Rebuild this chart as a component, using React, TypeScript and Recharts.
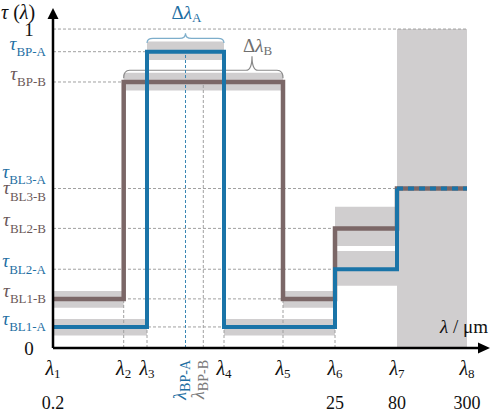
import React from 'react';
import { ComposedChart, Line, XAxis, YAxis, ReferenceArea, ReferenceLine, ReferenceDot } from 'recharts';

const FONT = "'Liberation Serif', 'DejaVu Serif', 'Times New Roman', serif";
const TXT = { fontFamily: FONT };
const BLUE = '#1a74a8';
const BROWN = '#7b6767';
const BAND = '#d0cecf';
const GUIDE = '#a0a0a0';
const BLUE_TEXT = '#1f6fa3';
const BROWN_TEXT = '#6b5858';
const BRACE_A = '#7eaecb';
const BRACE_B = '#8a8a8a';

// wavelength marks (symbolic positions along the λ axis)
const lambdaNames = ['1', '2', '3', 'BP-A', 'BP-B', '4', '5', '6', '7', '8'];
const lambdaPos = [0, 70.7, 94, 132.5, 150.3, 171, 230, 282, 344, 414];
const lambdaUm = ['0.2', '', '', '', '', '', '', '25', '80', '300'];
const X_MAX = 437;
const [L1, L2, L3, LBPA, LBPB, L4, L5, L6, L7, L8] = lambdaPos;

// transmittance levels
const tauNames = ['BP-A', 'BP-B', 'BL3-A', 'BL3-B', 'BL2-B', 'BL2-A', 'BL1-B', 'BL1-A'];
const tauVals = [0.929, 0.834, 0.5, 0.5, 0.375, 0.247, 0.154, 0.066];
const tauFilter = ['A', 'B', 'A', 'B', 'B', 'A', 'B', 'A'];
const [T_BPA, T_BPB, T_BL3A, T_BL3B, T_BL2B, T_BL2A, T_BL1B, T_BL1A] = tauVals;
const Y_MAX = 1.066;

// step curves of filter A and filter B
const filterAx = [L1, L3, L4, L6, L7];
const filterAy = [T_BL1A, T_BPA, T_BL1A, T_BL2A, T_BL3A];
const filterBx = [L1, L2, L5, L6, L7, L8];
const filterBy = [T_BL1B, T_BPB, T_BL1B, T_BL2B, T_BL3B, T_BL3B];
const sharedTailX = [L7, L8];
const sharedTailY = [T_BL3A, T_BL3A];

// tolerance bands
const bandX1 = [L1, L3, L4, L6, L1, L2, L5, L6, L7];
const bandX2 = [L3, L4, L6, L7, L2, L5, L6, L7, L8];
const bandLo = [0.039, 0.903, 0.039, 0.195, 0.126, 0.807, 0.126, 0.32, 0];
const bandHi = [0.091, 0.961, 0.091, 0.304, 0.179, 0.863, 0.179, 0.443, 1];

// dashed guide lines
const hGuideY = [1, T_BPA, T_BPB, T_BL3A, T_BL2B, T_BL2A, T_BL1B, T_BL1A];
const hGuideEnd = [L8, L3, L2, L7, L6, L6, L5, L6];
const vGuideX = [L2, L3, LBPA, LBPB, L4, L5, L6];
const vGuideTop = [T_BL1B, T_BL1A, T_BPA, T_BPB, T_BL1A, T_BL1B, T_BL1A];

// bandwidth braces
const braceX1 = [L3, L2];
const braceX2 = [L4, L5];
const braceTip = [LBPA, 199];
const braceLo = [0.956, 0.846];
const braceHi = [0.987, 0.915];
const braceNames = ['A', 'B'];

const toPts = (xs: number[], ys: number[]) => xs.map((x, i) => ({ x, y: ys[i] }));
const dataA = toPts(filterAx, filterAy);
const dataB = toPts(filterBx, filterBy);
const dataTail = toPts(sharedTailX, sharedTailY);

const XTick = (props: any) => {
  const { x, payload } = props;
  const i = lambdaPos.indexOf(payload.value);
  if (i < 0) return null;
  const name = lambdaNames[i];
  if (name.startsWith('BP')) {
    const color = name === 'BP-A' ? BLUE_TEXT : '#7a7a7a';
    return (
      <g transform={`translate(${x + 0.5},${360}) rotate(-90)`}>
        <text x={0} y={0} textAnchor="end" fill={color} style={TXT}>
          <tspan fontStyle="italic" fontSize={18}>λ</tspan>
          <tspan fontSize={14} dy={4}>{name}</tspan>
        </text>
      </g>
    );
  }
  return (
    <g>
      <text x={x} y={375} textAnchor="middle" fill="#111" style={TXT}>
        <tspan fontStyle="italic" fontSize={20}>λ</tspan>
        <tspan fontSize={13} dy={3}>{name}</tspan>
      </text>
      {lambdaUm[i] ? (
        <text x={x} y={409} textAnchor="middle" fill="#111" style={TXT} fontSize={18}>
          {lambdaUm[i]}
        </text>
      ) : null}
    </g>
  );
};

const YTick = (props: any) => {
  const { y, payload } = props;
  const v = payload.value;
  if (v === 0 || v === 1) {
    return (
      <text x={29} y={y + 7} textAnchor="middle" fill="#111" style={TXT} fontSize={19}>
        {v}
      </text>
    );
  }
  const idx = tauVals.map((t, i) => (t === v ? i : -1)).filter((i) => i >= 0);
  return (
    <g>
      {idx.map((i) => {
        const shared = idx.length > 1;
        const isA = tauFilter[i] === 'A';
        const base = shared ? (isA ? y - 11 : y + 5.5) : y - 2;
        return (
          <text key={i} x={46} y={base} textAnchor="end" fill={isA ? BLUE_TEXT : BROWN_TEXT} style={TXT}>
            <tspan fontStyle="italic" fontSize={19}>τ</tspan>
            <tspan fontSize={13} dy={6.5}>{tauNames[i]}</tspan>
          </text>
        );
      })}
    </g>
  );
};

const makeBrace = (k: number) => (props: any) => {
  const { x, y, width, height } = props;
  const color = k === 0 ? BRACE_A : BRACE_B;
  const textColor = k === 0 ? BLUE_TEXT : '#6f6f6f';
  const barFrac = k === 0 ? 0.53 : 0.64;
  const xb = x;
  const xe = x + width;
  const yb = y + height;
  const yt = y;
  const ym = y + height * barFrac;
  const t = x + (width * (braceTip[k] - braceX1[k])) / (braceX2[k] - braceX1[k]);
  const r = 6;
  const d = `M${xb},${yb} Q${xb},${ym} ${xb + r},${ym} L${t - r},${ym} Q${t},${ym} ${t},${yt} Q${t},${ym} ${t + r},${ym} L${xe - r},${ym} Q${xe},${ym} ${xe},${yb}`;
  const ldy = k === 0 ? -14 : -4;
  const ldx = k === 0 ? -14 : -9;
  return (
    <g>
      <path d={d} fill="none" stroke={color} strokeWidth={1.2} />
      <text x={t + ldx} y={yt + ldy} fill={textColor} style={TXT}>
        <tspan fontSize={19}>Δ</tspan>
        <tspan fontSize={19} fontStyle="italic">λ</tspan>
        <tspan fontSize={13} dy={3}>{braceNames[k]}</tspan>
      </text>
    </g>
  );
};

const XArrow = (props: any) => {
  const { cx, cy } = props;
  return (
    <g>
      <polygon points={`${cx},${cy} ${cx - 12},${cy - 5.5} ${cx - 12},${cy + 5.5}`} fill="#000" />
      <text x={cx - 2} y={cy - 15} textAnchor="end" fill="#111" style={TXT} fontSize={19}>
        <tspan fontStyle="italic">λ</tspan>
        <tspan> / μm</tspan>
      </text>
    </g>
  );
};

const YArrow = (props: any) => {
  const { cx, cy } = props;
  return (
    <g>
      <polygon points={`${cx},${cy} ${cx - 5.5},${cy + 11} ${cx + 5.5},${cy + 11}`} fill="#000" />
      <text x={cx - 52} y={cy + 11} fill="#111" style={TXT} fontSize={20}>
        <tspan fontStyle="italic">τ</tspan>
        <tspan> (</tspan>
        <tspan fontStyle="italic">λ</tspan>
        <tspan>)</tspan>
      </text>
    </g>
  );
};

export default function App() {
  return (
    <div style={{ position: 'absolute', left: 0, top: 0, background: '#fff' }}>
      <ComposedChart width={492} height={412} margin={{ top: 8, right: 2, bottom: 0, left: 0 }}>
        <XAxis
          type="number"
          dataKey="x"
          domain={[0, X_MAX]}
          ticks={lambdaPos}
          interval={0}
          height={64}
          axisLine={false}
          tickLine={false}
          tick={<XTick />}
          allowDataOverflow
        />
        <YAxis
          type="number"
          domain={[0, Y_MAX]}
          ticks={[0, 1, ...Array.from(new Set(tauVals))]}
          interval={0}
          width={53}
          axisLine={false}
          tickLine={false}
          tick={<YTick />}
          allowDataOverflow
        />
        {bandX1.map((x1, i) => (
          <ReferenceArea
            key={`band${i}`}
            x1={x1}
            x2={bandX2[i]}
            y1={bandLo[i]}
            y2={bandHi[i]}
            fill={BAND}
            fillOpacity={1}
            stroke="none"
            ifOverflow="visible"
          />
        ))}
        {hGuideY.map((y, i) => (
          <ReferenceLine
            key={`hg${i}`}
            segment={[{ x: 0, y }, { x: hGuideEnd[i], y }]}
            stroke={GUIDE}
            strokeWidth={1}
            strokeDasharray="3 2"
            ifOverflow="visible"
          />
        ))}
        {vGuideX.map((x, i) => (
          <ReferenceLine
            key={`vg${i}`}
            segment={[{ x, y: 0 }, { x, y: vGuideTop[i] }]}
            stroke={x === LBPA ? '#3a87b4' : GUIDE}
            strokeWidth={1}
            strokeDasharray="3 2"
            ifOverflow="visible"
          />
        ))}
        {braceX1.map((x1, k) => (
          <ReferenceArea
            key={`brace${k}`}
            x1={x1}
            x2={braceX2[k]}
            y1={braceLo[k]}
            y2={braceHi[k]}
            ifOverflow="visible"
            shape={makeBrace(k)}
          />
        ))}
        <Line data={dataB} dataKey="y" type="stepAfter" stroke={BROWN} strokeWidth={4.5} dot={false} activeDot={false} isAnimationActive={false} />
        <Line data={dataA} dataKey="y" type="stepAfter" stroke={BLUE} strokeWidth={4} dot={false} activeDot={false} isAnimationActive={false} />
        <Line data={dataTail} dataKey="y" type="linear" stroke={BLUE} strokeWidth={4} strokeDasharray="6 5" dot={false} activeDot={false} isAnimationActive={false} />
        <ReferenceLine segment={[{ x: 0, y: 0 }, { x: X_MAX - 10, y: 0 }]} stroke="#000" strokeWidth={2.5} ifOverflow="visible" />
        <ReferenceLine segment={[{ x: 0, y: 0 }, { x: 0, y: Y_MAX - 0.03 }]} stroke="#000" strokeWidth={2.5} ifOverflow="visible" />
        <ReferenceDot x={X_MAX} y={0} r={0} ifOverflow="visible" shape={<XArrow />} />
        <ReferenceDot x={0} y={Y_MAX} r={0} ifOverflow="visible" shape={<YArrow />} />
      </ComposedChart>
    </div>
  );
}
